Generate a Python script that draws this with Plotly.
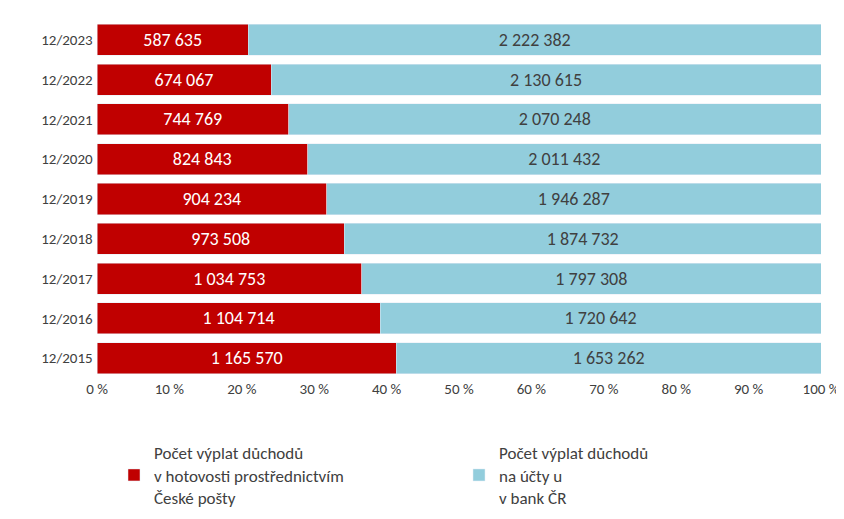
import plotly.graph_objects as go

years = ["12/2015", "12/2016", "12/2017", "12/2018", "12/2019",
         "12/2020", "12/2021", "12/2022", "12/2023"]
cash = [1165570, 1104714, 1034753, 973508, 904234, 824843, 744769, 674067, 587635]
bank = [1653262, 1720642, 1797308, 1874732, 1946287, 2011432, 2070248, 2130615, 2222382]


def fmt(v):
    return f"{v:,}".replace(",", " ")


fig = go.Figure()
fig.add_trace(go.Bar(
    y=years, x=cash, orientation="h",
    name="Počet výplat důchodů<br>v hotovosti prostřednictvím<br>České pošty",
    marker_color="#C00000",
    text=[fmt(v) for v in cash], textposition="inside", insidetextanchor="middle",
    textfont=dict(color="white", size=18),
))
fig.add_trace(go.Bar(
    y=years, x=bank, orientation="h",
    name="Počet výplat důchodů<br>na účty u<br>v bank ČR",
    marker_color="#92CDDC",
    text=[fmt(v) for v in bank], textposition="inside", insidetextanchor="middle",
    textfont=dict(color="#404040", size=18),
))

fig.update_layout(
    barmode="stack", barnorm="percent", bargap=0.22,
    width=844, height=519,
    margin=dict(l=89, r=27, t=12, b=147),
    plot_bgcolor="white", paper_bgcolor="white",
    font=dict(family="Carlito, Liberation Sans, sans-serif", size=16, color="#404040"),
    xaxis=dict(range=[0, 100], dtick=10, ticksuffix=" %", showgrid=False,
               zeroline=False, showline=False, ticks="", tickfont=dict(size=15)),
    yaxis=dict(showgrid=False, ticks="", tickfont=dict(size=15), ticksuffix=" "),
    legend=dict(orientation="h", x=0.5, xanchor="center", y=-0.16, yanchor="top",
                font=dict(size=17), traceorder="normal", itemwidth=30,
                entrywidth=300),
    uniformtext=dict(mode="show", minsize=10),
)

fig.write_html("out.html")
